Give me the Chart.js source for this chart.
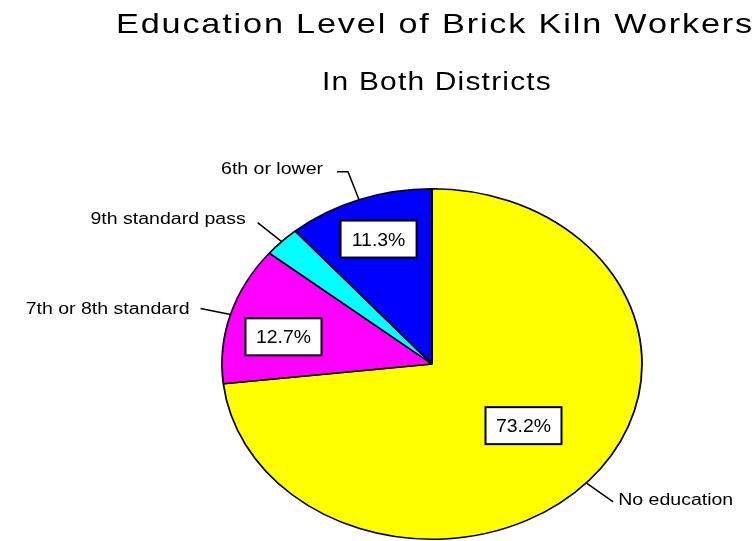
<!DOCTYPE html>
<html>
<head>
<meta charset="utf-8">
<script src="https://cdn.jsdelivr.net/npm/chart.js@4/dist/chart.umd.min.js"></script>
<style>
  html, body { margin: 0; padding: 0; background: #ffffff; overflow: hidden; }
  #wrap { width: 756px; height: 541px; position: relative; }
</style>
</head>
<body>
<div id="wrap"><canvas id="c" width="756" height="541"></canvas></div>
<script>
// ---- data ----
const TITLE = "Education Level of Brick Kiln Workers";
const SUBTITLE = "In Both Districts";
const categories = ["No education", "7th or 8th standard", "9th standard pass", "6th or lower"];
const shares = [73.2, 12.7, 2.8, 11.3];
const showPercentBox = [true, true, false, true];
const sliceColors = ["#FFFF00", "#FF00FF", "#00FFFF", "#0000FF"];

// ---- styling / layout (not data) ----
const ELLIPSE_RX = 210;            // horizontal radius of the drawn (stretched) pie
const FONT = "'Liberation Sans', Arial, Helvetica, sans-serif";
// percent boxes: radial fraction and angle tweak (degrees)
const boxPlace = [{f: 0.56, da: -2.85}, {f: 0.724, da: -4}, null, {f: 0.757, da: 0.7}];
// leader lines: rim-angle tweak, segments from rim point, text gap, text baseline offset
const leaders = [
  {da: 1, pts: [[27, 19]], gap: 5, align: 'left', ty: 3.5},
  {da: 0, pts: [[-30, -6]], gap: 11, align: 'right', ty: 5},
  {da: 0, pts: [[-24, -19]], gap: 12, align: 'right', ty: 1.5},
  {da: 0, pts: [[-11, -28], [-22, -28]], gap: 14, align: 'right', ty: 2.5}
];

function drawStretched(ctx, text, x, y, size, align, targetW, stretch, spacing) {
  ctx.save();
  ctx.font = size + "px " + FONT;
  if (spacing) ctx.letterSpacing = spacing + "px";
  ctx.fillStyle = "#000";
  ctx.textBaseline = "alphabetic";
  const w = ctx.measureText(text).width;
  const s = targetW ? targetW / w : stretch;
  ctx.translate(x, y);
  ctx.scale(s, 1);
  ctx.textAlign = align;
  ctx.fillText(text, 0, 0);
  ctx.restore();
}

const ellipsePie = {
  id: 'ellipsePie',
  beforeDatasetsDraw(chart) {
    const arc = chart.getDatasetMeta(0).data[0];
    const sx = ELLIPSE_RX / arc.outerRadius;
    const ctx = chart.ctx;
    ctx.save();
    ctx.translate(arc.x, 0);
    ctx.scale(sx, 1);
    ctx.translate(-arc.x, 0);
  },
  afterDatasetsDraw(chart) {
    chart.ctx.restore();
  },
  afterDraw(chart) {
    const ctx = chart.ctx;
    const meta = chart.getDatasetMeta(0);
    const arc0 = meta.data[0];
    const cx = arc0.x, cy = arc0.y, R = arc0.outerRadius;
    const sx = ELLIPSE_RX / R;

    // titles
    drawStretched(ctx, TITLE, 435, 33, 28, 'center', 638, null, 1.5);
    drawStretched(ctx, SUBTITLE, 437, 90, 25, 'center', 230, null, 1);

    meta.data.forEach((arc, i) => {
      const mid = (arc.startAngle + arc.endAngle) / 2;
      // percent box
      if (showPercentBox[i] && boxPlace[i]) {
        const a = mid + boxPlace[i].da * Math.PI / 180;
        const bx = cx + Math.cos(a) * boxPlace[i].f * R * sx;
        const by = cy + Math.sin(a) * boxPlace[i].f * R;
        const bw = 76, bh = 37;
        ctx.save();
        ctx.fillStyle = "#ffffff";
        ctx.strokeStyle = "#000000";
        ctx.lineWidth = 2;
        ctx.fillRect(bx - bw / 2, by - bh / 2, bw, bh);
        ctx.strokeRect(bx - bw / 2, by - bh / 2, bw, bh);
        ctx.restore();
        const txt = shares[i].toFixed(1) + "%";
        drawStretched(ctx, txt, bx, by + 6.5, 18, 'center', null, 1.08);
      }
      // leader line + category label
      const L = leaders[i];
      const am = mid + L.da * Math.PI / 180;
      const rx0 = cx + Math.cos(am) * R * sx;
      const ry0 = cy + Math.sin(am) * R;
      ctx.save();
      ctx.strokeStyle = "#000";
      ctx.lineWidth = 1.5;
      ctx.beginPath();
      ctx.moveTo(rx0, ry0);
      let ex = rx0, ey = ry0;
      L.pts.forEach(p => { ex = rx0 + p[0]; ey = ry0 + p[1]; ctx.lineTo(ex, ey); });
      ctx.stroke();
      ctx.restore();
      const tx = L.align === 'left' ? ex + L.gap : ex - L.gap;
      drawStretched(ctx, categories[i], tx, ey + L.ty, 16, L.align, null, 1.22);
    });
  }
};

new Chart(document.getElementById('c'), {
  type: 'pie',
  data: {
    labels: categories,
    datasets: [{
      data: shares,
      backgroundColor: sliceColors,
      borderColor: "#000000",
      borderWidth: 1.5,
      clip: false
    }]
  },
  options: {
    responsive: false,
    animation: false,
    events: [],
    layout: { padding: { left: 256, right: 148, top: 188, bottom: 1 } },
    plugins: {
      legend: { display: false },
      title: { display: false },
      tooltip: { enabled: false }
    }
  },
  plugins: [ellipsePie]
});
</script>
</body>
</html>
